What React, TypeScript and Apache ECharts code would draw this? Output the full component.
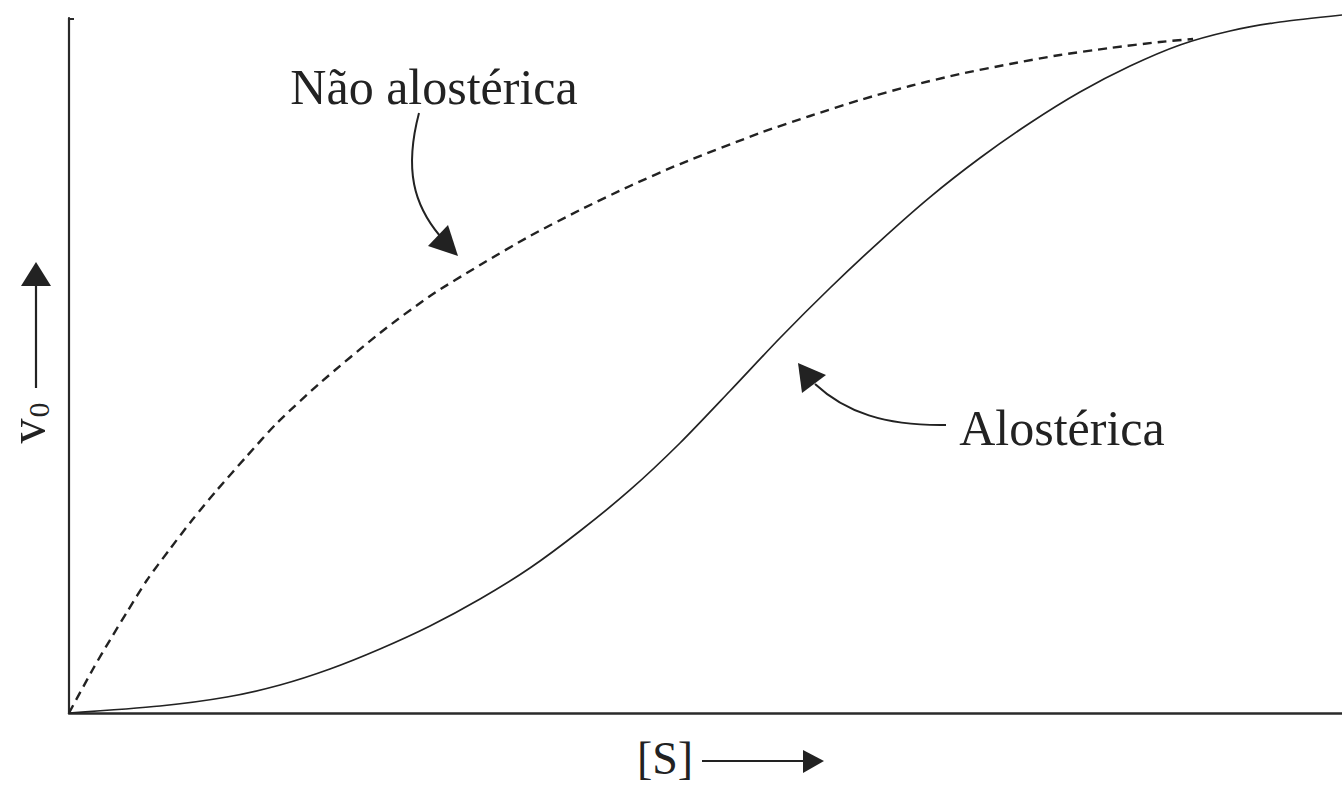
import React, { useEffect, useRef } from "react";
import * as echarts from "echarts";

// Non-allosteric (hyperbolic) curve
const nonAllostericS = [0, 0.1885, 0.322, 0.456, 0.613, 0.793, 0.974, 1.163, 1.398, 1.634, 1.972, 2.443, 2.836, 3.229, 3.621, 4.014, 4.407, 4.8, 5.428, 5.821, 6.214, 6.606, 6.999, 7.392, 7.785, 8.177, 8.57, 8.83];
const nonAllostericV = [0, 0.0633, 0.105, 0.1453, 0.1914, 0.236, 0.2791, 0.3209, 0.3698, 0.4173, 0.4748, 0.5468, 0.6, 0.6446, 0.6863, 0.7237, 0.7583, 0.7899, 0.8345, 0.859, 0.882, 0.9022, 0.9194, 0.9338, 0.9468, 0.9568, 0.9655, 0.9698];

// Allosteric (sigmoidal) curve
const allostericS = [0, 0.715, 1.241, 1.658, 2.05, 2.443, 2.836, 3.229, 3.621, 4.014, 4.407, 4.8, 5.192, 5.585, 5.978, 6.371, 6.764, 7.156, 7.549, 7.942, 8.335, 8.727, 9.12, 9.513, 10];
const allostericV = [0, 0.0101, 0.023, 0.0403, 0.0633, 0.0921, 0.1252, 0.164, 0.2086, 0.2619, 0.3209, 0.3885, 0.4633, 0.5396, 0.6115, 0.6791, 0.7424, 0.7986, 0.8489, 0.8935, 0.9309, 0.9612, 0.9813, 0.9942, 1.0043];

const labelNonAllosteric = "Não alostérica";
const labelAllosteric = "Alostérica";
const labelX = "[S]";
const labelY = "v";
const labelYSub = "0";

const SERIF = "'Liberation Serif', 'DejaVu Serif', serif";
const INK = "#222";

export default function App() {
  const ref = useRef<HTMLDivElement>(null);

  useEffect(() => {
    if (!ref.current) return;
    const chart = echarts.init(ref.current, undefined, { renderer: "svg" });
    const zip = (xs: number[], ys: number[]) => xs.map((x, i) => [x, ys[i]]);

    chart.setOption({
      animation: false,
      backgroundColor: "#fff",
      grid: { left: 69, right: 0, top: 18, bottom: 74 },
      xAxis: {
        type: "value",
        min: 0,
        max: 10,
        axisLine: { show: true, lineStyle: { color: "#2a2a2a", width: 2.5 } },
        axisTick: { show: false },
        axisLabel: { show: false },
        splitLine: { show: false },
      },
      yAxis: {
        type: "value",
        min: 0,
        max: 1,
        axisLine: { show: true, lineStyle: { color: "#2a2a2a", width: 2.2 } },
        axisTick: { show: false },
        axisLabel: { show: false },
        splitLine: { show: false },
      },
      series: [
        {
          type: "line",
          name: labelNonAllosteric,
          data: zip(nonAllostericS, nonAllostericV),
          showSymbol: false,
          smooth: 0.25,
          clip: false,
          lineStyle: { color: INK, width: 2.4, type: [9, 6] },
        },
        {
          type: "line",
          name: labelAllosteric,
          data: zip(allostericS, allostericV),
          showSymbol: false,
          smooth: 0.25,
          clip: false,
          lineStyle: { color: INK, width: 1.7 },
        },
      ],
      graphic: [
        // small hook at top of y axis
        { type: "line", shape: { x1: 68, y1: 19, x2: 74, y2: 19 }, style: { stroke: "#2a2a2a", lineWidth: 2 } },
        // Não alostérica label + curved arrow
        {
          type: "text",
          x: 434,
          y: 87,
          style: { text: labelNonAllosteric, font: `50px ${SERIF}`, fill: INK, align: "center", verticalAlign: "middle" },
        },
        {
          type: "bezierCurve",
          shape: { x1: 419, y1: 113, cpx1: 404, cpy1: 170, cpx2: 414, cpy2: 205, x2: 440, y2: 236 },
          style: { stroke: INK, lineWidth: 2, fill: "none" },
        },
        { type: "polygon", shape: { points: [[458, 256], [428, 246], [448, 225]] }, style: { fill: INK } },
        // Alostérica label + curved arrow
        {
          type: "text",
          x: 1062,
          y: 428,
          style: { text: labelAllosteric, font: `50px ${SERIF}`, fill: INK, align: "center", verticalAlign: "middle" },
        },
        {
          type: "bezierCurve",
          shape: { x1: 946, y1: 425, cpx1: 885, cpy1: 426, cpx2: 845, cpy2: 412, x2: 815, y2: 384 },
          style: { stroke: INK, lineWidth: 2, fill: "none" },
        },
        { type: "polygon", shape: { points: [[798, 363], [802, 393], [826, 375]] }, style: { fill: INK } },
        // y label, rotated
        {
          type: "text",
          x: 27,
          y: 431,
          rotation: Math.PI / 2,
          style: { text: labelY, font: `50px ${SERIF}`, fill: INK, align: "center", verticalAlign: "middle" },
        },
        {
          type: "text",
          x: 38,
          y: 410,
          rotation: Math.PI / 2,
          style: { text: labelYSub, font: `30px ${SERIF}`, fill: INK, align: "center", verticalAlign: "middle" },
        },
        { type: "line", shape: { x1: 36, y1: 388, x2: 36, y2: 282 }, style: { stroke: INK, lineWidth: 2.2 } },
        { type: "polygon", shape: { points: [[36, 262], [21, 286], [51, 286]] }, style: { fill: INK } },
        // x label + arrow
        {
          type: "text",
          x: 665,
          y: 758,
          style: { text: labelX, font: `46px ${SERIF}`, fill: INK, align: "center", verticalAlign: "middle" },
        },
        { type: "line", shape: { x1: 702, y1: 761, x2: 806, y2: 761 }, style: { stroke: INK, lineWidth: 2.2 } },
        { type: "polygon", shape: { points: [[824, 761], [803, 750], [803, 773]] }, style: { fill: INK } },
      ],
    });

    return () => chart.dispose();
  }, []);

  return (
    <div
      ref={ref}
      style={{ position: "fixed", left: 0, top: 0, width: 1342, height: 787, background: "#fff" }}
    />
  );
}
